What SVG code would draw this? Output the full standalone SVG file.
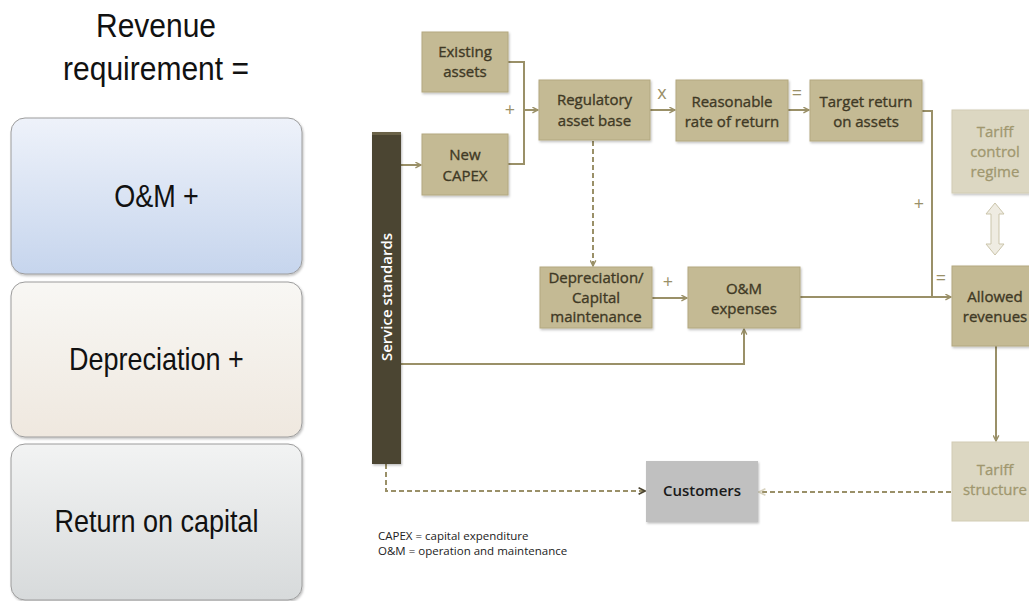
<svg xmlns="http://www.w3.org/2000/svg" width="1029" height="601" viewBox="0 0 1029 601">
<defs>
<linearGradient id="gBlue" x1="0" y1="0" x2="0" y2="1"><stop offset="0" stop-color="#eef2fa"/><stop offset="1" stop-color="#c6d5ed"/></linearGradient>
<linearGradient id="gBeige" x1="0" y1="0" x2="0" y2="1"><stop offset="0" stop-color="#f8f7f4"/><stop offset="1" stop-color="#efe8df"/></linearGradient>
<linearGradient id="gGray" x1="0" y1="0" x2="0" y2="1"><stop offset="0" stop-color="#f2f3f3"/><stop offset="1" stop-color="#d7dadb"/></linearGradient>
<marker id="ah" viewBox="0 0 10 10" refX="9" refY="5" markerWidth="7" markerHeight="7" orient="auto" markerUnits="userSpaceOnUse"><path d="M1,1 L9,5 L1,9" fill="none" stroke="#9a9068" stroke-width="2"/></marker>
<marker id="ahDark" viewBox="0 0 10 10" refX="9" refY="5" markerWidth="8" markerHeight="8" orient="auto" markerUnits="userSpaceOnUse"><path d="M1,1 L9,5 L1,9" fill="none" stroke="#4b4431" stroke-width="2"/></marker>
<marker id="ahLight" viewBox="0 0 10 10" refX="9" refY="5" markerWidth="8" markerHeight="8" orient="auto" markerUnits="userSpaceOnUse"><path d="M1,1 L9,5 L1,9" fill="none" stroke="#d8d3bf" stroke-width="2"/></marker>
<filter id="sh" x="-10%" y="-10%" width="130%" height="130%"><feDropShadow dx="1" dy="1.5" stdDeviation="1" flood-color="#000" flood-opacity="0.25"/></filter>
</defs>
<style>
.lt{font-family:"Liberation Sans",Arial,sans-serif;fill:#111;text-anchor:middle}
.lbox{stroke:#9c9c9c;stroke-width:1}
.node{fill:#c4ba94;stroke:#b3a880;stroke-width:1}
.nt{font-family:"Open Sans","Liberation Sans",sans-serif;font-size:15px;fill:#3f3925;stroke:#3f3925;stroke-width:0.35;text-anchor:middle}
.light{fill:#dcd7c2;stroke:#d2ccb4;stroke-width:1}
.ltxt{font-family:"Open Sans","Liberation Sans",sans-serif;font-size:15px;fill:#a0976f;stroke:#a0976f;stroke-width:0.3;text-anchor:middle}
.con{fill:none;stroke:#9a9068;stroke-width:2}
.op{font-family:"Open Sans","Liberation Sans",sans-serif;font-size:18px;fill:#9a9068;text-anchor:middle}
.foot{font-family:"Open Sans","Liberation Sans",sans-serif;font-size:11.5px;fill:#222}
</style>
<rect width="1029" height="601" fill="#ffffff"/>

<g id="left-title">
<text class="lt" transform="translate(156,37) scale(1,1.1)" font-size="30">Revenue</text>
<text class="lt" transform="translate(156,80) scale(1,1.1)" font-size="30">requirement =</text>
</g>
<g id="box-om">
<rect class="lbox" x="11" y="118" width="291" height="156" rx="14" fill="url(#gBlue)" filter="url(#sh)"/>
<text class="lt" transform="translate(156.5,207) scale(1,1.14)" font-size="27">O&amp;M +</text>
</g>
<g id="box-dep">
<rect class="lbox" x="11" y="282" width="291" height="155" rx="14" fill="url(#gBeige)" filter="url(#sh)"/>
<text class="lt" transform="translate(156.5,370) scale(1,1.14)" font-size="27">Depreciation +</text>
</g>
<g id="box-roc">
<rect class="lbox" x="11" y="444" width="291" height="156" rx="14" fill="url(#gGray)" filter="url(#sh)"/>
<text class="lt" transform="translate(156.5,532) scale(1,1.14)" font-size="27">Return on capital</text>
</g>

<g id="connectors">
<path class="con" d="M508,62 H524 V164 H508"/>
<path class="con" d="M524,110 H538" marker-end="url(#ah)"/>
<path class="con" d="M401,165 H421" marker-end="url(#ah)"/>
<path class="con" d="M650,110 H675" marker-end="url(#ah)"/>
<path class="con" d="M788,110 H809" marker-end="url(#ah)"/>
<path class="con" d="M922,111 H932 V297"/>
<path class="con" d="M800,297 H951" marker-end="url(#ah)"/>
<path class="con" d="M593,141 V266" stroke-dasharray="5,3" stroke="#a99e78" marker-end="url(#ah)"/>
<path class="con" d="M652,298 H687" marker-end="url(#ah)"/>
<path class="con" d="M401,364 H744 V329" marker-end="url(#ah)"/>
<path class="con" d="M996,346 V441" marker-end="url(#ah)"/>
<path class="con" d="M951,492 H759" stroke="#d8d3bf" stroke-dasharray="5,3" marker-end="url(#ahLight)"/>
<path class="con" d="M386,464 V491 H645" stroke="#4b4431" stroke-dasharray="5,3" marker-end="url(#ahDark)"/>
<path d="M995,203 L1004,214 L999,214 L999,244 L1004,244 L995,255 L986,244 L991,244 L991,214 L986,214 Z" fill="#efece2" stroke="#cbc5ab" stroke-width="1"/>
<text class="op" x="510" y="116">+</text>
<text class="op" x="662" y="99">x</text>
<text class="op" x="797" y="99">=</text>
<text class="op" x="919" y="210">+</text>
<text class="op" x="941" y="284">=</text>
<text class="op" x="668" y="288">+</text>
</g>

<g id="service-standards">
<rect x="372" y="132" width="29" height="332" fill="#4b4431" filter="url(#sh)"/>
<rect x="372" y="132" width="29" height="3" fill="#6a6248"/>
<text transform="translate(392,297) rotate(-90)" font-family="'Open Sans','Liberation Sans',sans-serif" font-size="15" font-weight="600" fill="#ffffff" text-anchor="middle">Service standards</text>
</g>
<g id="existing-assets">
<rect class="node" x="422" y="32" width="86" height="60" filter="url(#sh)"/>
<text class="nt" x="465" y="57">Existing</text>
<text class="nt" x="465" y="77">assets</text>
</g>
<g id="new-capex">
<rect class="node" x="422" y="134" width="86" height="61" filter="url(#sh)"/>
<text class="nt" x="465" y="160">New</text>
<text class="nt" x="465" y="181">CAPEX</text>
</g>
<g id="regulatory-asset-base">
<rect class="node" x="539" y="80" width="111" height="60" filter="url(#sh)"/>
<text class="nt" x="594.5" y="105">Regulatory</text>
<text class="nt" x="594.5" y="126">asset base</text>
</g>
<g id="reasonable-rate">
<rect class="node" x="676" y="80" width="112" height="61" filter="url(#sh)"/>
<text class="nt" x="732" y="107">Reasonable</text>
<text class="nt" x="732" y="127">rate of return</text>
</g>
<g id="target-return">
<rect class="node" x="810" y="80" width="112" height="61" filter="url(#sh)"/>
<text class="nt" x="866" y="107">Target return</text>
<text class="nt" x="866" y="127">on assets</text>
</g>
<g id="tariff-control">
<rect class="light" x="952" y="110" width="88" height="83" filter="url(#sh)"/>
<text class="ltxt" x="995" y="137">Tariff</text>
<text class="ltxt" x="995" y="157">control</text>
<text class="ltxt" x="995" y="177">regime</text>
</g>
<g id="depreciation">
<rect class="node" x="540" y="267" width="112" height="61" filter="url(#sh)"/>
<text class="nt" x="596" y="283">Depreciation/</text>
<text class="nt" x="596" y="303">Capital</text>
<text class="nt" x="596" y="322">maintenance</text>
</g>
<g id="om-expenses">
<rect class="node" x="688" y="267" width="112" height="61" filter="url(#sh)"/>
<text class="nt" x="744" y="294">O&amp;M</text>
<text class="nt" x="744" y="314">expenses</text>
</g>
<g id="allowed-revenues">
<rect class="node" x="952" y="266" width="88" height="80" filter="url(#sh)"/>
<text class="nt" x="995" y="302">Allowed</text>
<text class="nt" x="995" y="322">revenues</text>
</g>
<g id="tariff-structure">
<rect class="light" x="952" y="442" width="88" height="79"/>
<text class="ltxt" x="995" y="475">Tariff</text>
<text class="ltxt" x="995" y="495">structure</text>
</g>
<g id="customers">
<rect x="646" y="461" width="112" height="61" fill="#c0c0c0" filter="url(#sh)"/>
<text x="702" y="496" font-family="'Open Sans','Liberation Sans',sans-serif" font-size="15" font-weight="600" fill="#1a1a1a" text-anchor="middle">Customers</text>
</g>
<g id="footnote">
<text class="foot" x="378" y="540">CAPEX = capital expenditure</text>
<text class="foot" x="378" y="555">O&amp;M = operation and maintenance</text>
</g>
</svg>
